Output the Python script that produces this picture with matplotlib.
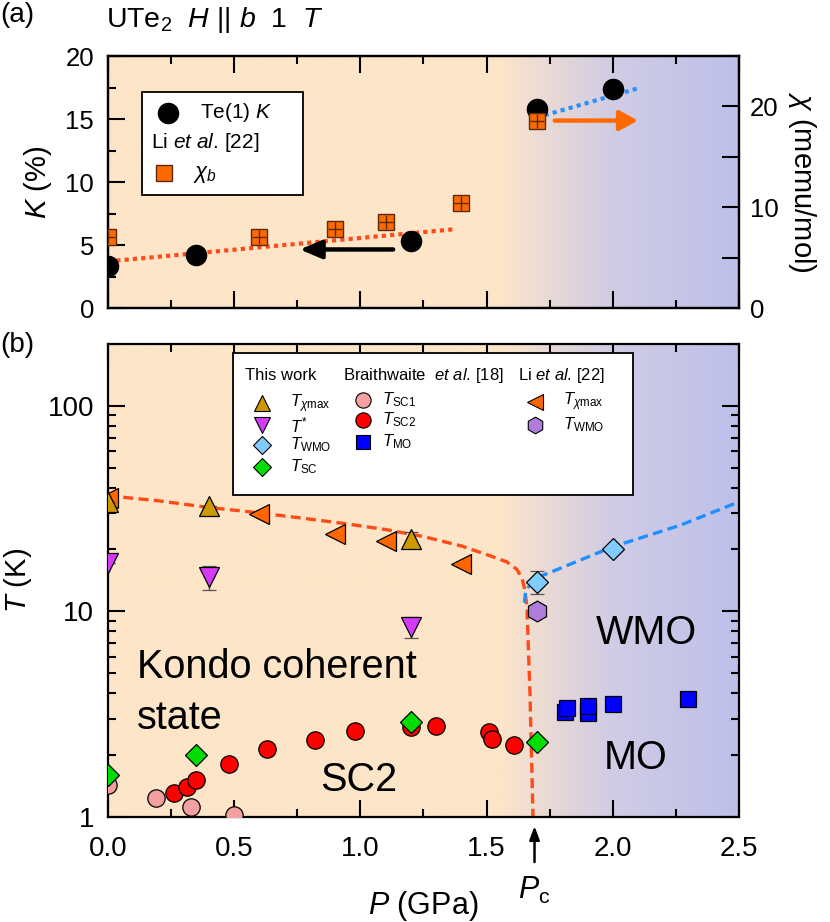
import numpy as np
import matplotlib
matplotlib.use("Agg")
import matplotlib.pyplot as plt
from matplotlib.patches import Rectangle
from matplotlib.ticker import MultipleLocator, LogLocator, NullFormatter

plt.rcParams['font.family'] = ['Liberation Sans', 'DejaVu Sans']
plt.rcParams['mathtext.fontset'] = 'custom'
plt.rcParams['mathtext.rm'] = 'Liberation Sans'
plt.rcParams['mathtext.it'] = 'Liberation Sans:italic'
plt.rcParams['mathtext.bf'] = 'Liberation Sans:bold'

# ---- panel (a): Knight shift and susceptibility ----
k_p = [0.0, 0.35, 1.2, 1.7, 2.0]
k_val = [3.3, 4.2, 5.3, 15.8, 17.4]
chi_p = [0.0, 0.6, 0.9, 1.1, 1.4, 1.7]
chi_val = [7.0, 7.0, 7.8, 8.5, 10.4, 18.6]
fit_low_p = [0.0, 1.37]
fit_low_k = [3.7, 6.25]
fit_high_p = [1.73, 2.11]
fit_high_k = [15.3, 17.5]

# ---- panel (b): phase diagram ----
txmax_p = [0.0, 0.4, 1.2]
txmax_t = [34.0, 32.5, 22.4]
txmax_err = [0.0, 0.0, 2.0]
tstar_p = [0.0, 0.4, 1.2]
tstar_t = [17.1, 14.7, 8.4]
tstar_err = [0.0, 2.0, 1.0]
twmo_p = [1.7, 2.0]
twmo_t = [13.9, 20.0]
twmo_err = [1.8, 0.0]
tsc_p = [0.0, 0.35, 1.2, 1.7]
tsc_t = [1.6, 2.0, 2.9, 2.3]

tsc1_p = [0.0, 0.19, 0.33, 0.50]
tsc1_t = [1.43, 1.23, 1.12, 1.02]
tsc2_p = [0.26, 0.315, 0.35, 0.48, 0.63, 0.82, 0.98, 1.2, 1.3, 1.51, 1.52, 1.61]
tsc2_t = [1.30, 1.39, 1.51, 1.80, 2.13, 2.36, 2.61, 2.72, 2.76, 2.57, 2.38, 2.23]
tmo_p = [1.81, 1.82, 1.90, 1.90, 2.0, 2.3]
tmo_t = [3.24, 3.37, 3.19, 3.46, 3.53, 3.74]

li_txmax_p = [0.0, 0.6, 0.9, 1.1, 1.4]
li_txmax_t = [35.5, 29.9, 23.9, 22.0, 17.0]
li_twmo_p = [1.7]
li_twmo_t = [10.0]

kondo_p = [0.0, 0.2, 0.4, 0.56, 0.75, 0.93, 1.1, 1.25, 1.4, 1.51, 1.58,
           1.62, 1.64, 1.65, 1.66, 1.665, 1.672, 1.678, 1.684]
kondo_t = [36.5, 34.5, 32.0, 30.5, 28.6, 26.8, 25.0, 23.1, 20.8, 18.7, 17.4,
           16.0, 14.5, 13.0, 10.5, 7.0, 4.0, 2.0, 1.0]
wmo_p = [1.650, 1.655, 1.675, 1.70, 1.76, 2.0, 2.27, 2.5]
wmo_t = [11.0, 12.4, 13.7, 14.6, 15.6, 20.6, 26.3, 34.1]

p_c = 1.69
x_ticks = [0.0, 0.5, 1.0, 1.5, 2.0, 2.5]

# background colour stops (pressure -> rgb)
bg_p = [0.0, 1.55, 1.75, 2.0, 2.5]
bg_rgb = np.array([[253, 229, 200], [253, 229, 200], [232, 217, 214],
                   [208, 204, 229], [190, 192, 234]]) / 255.0


def add_background(fig, ax):
    pp = np.linspace(0, 2.5, 600)
    img = np.stack([np.interp(pp, bg_p, bg_rgb[:, i]) for i in range(3)], axis=-1)
    bg = fig.add_axes(ax.get_position(), zorder=-1)
    bg.imshow(img[np.newaxis, :, :], aspect='auto', extent=[0, 1, 0, 1])
    bg.axis('off')
    ax.patch.set_visible(False)


def style_ticks(ax, size):
    ax.tick_params(which='both', direction='in', top=True, width=1.5, labelsize=size)
    ax.tick_params(which='major', length=12)
    ax.tick_params(which='minor', length=6)
    for s in ax.spines.values():
        s.set_linewidth(1.6)


fig = plt.figure(figsize=(8.3, 9.22), dpi=100)
ax1 = fig.add_axes([0.1301, 0.6659, 0.7602, 0.2733])
ax2 = fig.add_axes([0.1301, 0.1142, 0.7602, 0.5127])
add_background(fig, ax1)
add_background(fig, ax2)

# ---------- panel (a) ----------
ax1.set_xlim(0, 2.5)
ax1.set_ylim(0, 20)
ax1.xaxis.set_major_locator(MultipleLocator(0.5))
ax1.xaxis.set_minor_locator(MultipleLocator(0.25))
ax1.yaxis.set_major_locator(MultipleLocator(5))
ax1.yaxis.set_minor_locator(MultipleLocator(2.5))
ax1.set_xticklabels([])
style_ticks(ax1, 18.5)
ax1.tick_params(axis='y', pad=10)
ax1.tick_params(axis='x', labelbottom=False)
ax1.set_ylabel('$K$ (%)', fontsize=21, labelpad=8)

ax1r = ax1.twinx()
ax1r.set_ylim(0, 25)
ax1r.yaxis.set_major_locator(MultipleLocator(10))
ax1r.yaxis.set_minor_locator(MultipleLocator(5))
ax1r.tick_params(which='both', direction='in', width=1.5, labelsize=18.5, pad=8)
ax1r.tick_params(which='major', length=12)
ax1r.tick_params(which='minor', length=12)
ax1r.set_ylabel(r'$\chi$ (memu/mol)', fontsize=21, rotation=270, labelpad=28)
ax1r.patch.set_visible(False)
for s in ax1r.spines.values():
    s.set_linewidth(1.6)

ax1.plot(fit_low_p, fit_low_k, ls=(0, (1, 1)), color='#FF4A1A', lw=3, zorder=2)
ax1.plot(fit_high_p, fit_high_k, ls=(0, (1, 1)), color='#2B8FFF', lw=3, zorder=2)
ax1.plot(k_p, k_val, 'o', ms=14.5, color='black', zorder=3)
ax1r.plot(chi_p, chi_val, 's', ms=12, mfc='#FF6A00', mec='#5A2A10', mew=1.0, zorder=4)
ax1r.plot(chi_p, chi_val, '+', ms=10, mec='#5A2A10', mew=1.0, zorder=5)

ax1.annotate('', xy=(0.76, 4.65), xytext=(1.13, 4.65),
             arrowprops=dict(arrowstyle='-|>,head_length=1.3,head_width=0.55',
                             color='black', lw=3.2, shrinkA=0, shrinkB=0), zorder=6)
ax1r.annotate('', xy=(2.10, 18.6), xytext=(1.77, 18.6),
              arrowprops=dict(arrowstyle='-|>,head_length=1.1,head_width=0.6',
                              color='#FF6A00', lw=3.2, shrinkA=0, shrinkB=0), zorder=6)

# legend (a)
ax1.add_patch(Rectangle((0.054, 0.448), 0.255, 0.409, transform=ax1.transAxes,
                        facecolor='white', edgecolor='black', lw=1.3, zorder=7))
ax1.plot([0.095], [0.775], 'o', ms=14.5, color='black', transform=ax1.transAxes,
         clip_on=False, zorder=8)
ax1.text(0.146, 0.775, 'Te(1) $K$', fontsize=15, va='center', transform=ax1.transAxes, zorder=8)
ax1.text(0.068, 0.655, 'Li $et$ $al$. [22]', fontsize=15, va='center',
         transform=ax1.transAxes, zorder=8)
ax1.plot([0.089], [0.536], 's', ms=12, mfc='#FF6A00', mec='#5A2A10', mew=1.0,
         transform=ax1.transAxes, clip_on=False, zorder=8)
ax1.text(0.135, 0.530, r'$\chi_b$', fontsize=16, va='center', transform=ax1.transAxes, zorder=8)

fig.text(0.0, 0.984, '(a)', fontsize=20, va='center')
fig.text(0.1277, 0.978, r'UTe$_2$  $H$ || $b$  1  $T$', fontsize=20.5, va='center')

# ---------- panel (b) ----------
ax2.set_yscale('log')
ax2.set_xlim(0, 2.5)
ax2.set_ylim(1, 200)
ax2.set_xticks(x_ticks)
ax2.set_xticklabels([f'{v:.1f}' for v in x_ticks])
ax2.xaxis.set_minor_locator(MultipleLocator(0.25))
ax2.set_yticks([1, 10, 100])
ax2.set_yticklabels(['1', '10', '100'])
ax2.yaxis.set_minor_locator(LogLocator(base=10, subs=np.arange(2, 10)))
ax2.yaxis.set_minor_formatter(NullFormatter())
style_ticks(ax2, 20)
ax2.tick_params(which='both', right=True)
ax2.tick_params(axis='y', pad=10)
ax2.tick_params(axis='x', pad=14)
ax2.set_ylabel('$T$ (K)', fontsize=21, labelpad=10)
ax2.set_xlabel('$P$ (GPa)', fontsize=22, labelpad=19)

ax2.plot(kondo_p, kondo_t, ls=(0, (3, 1.6)), color='#FF4A1A', lw=2.4, zorder=2)
ax2.plot(wmo_p, wmo_t, ls=(0, (3, 1.6)), color='#1E8FFF', lw=2.4, zorder=2)

ekw = dict(ecolor='#555555', elinewidth=1.0, capsize=5, capthick=1.0, ls='none')
ax2.plot(tsc1_p, tsc1_t, 'o', ms=12.5, mfc='#F4A0A0', mec='black', mew=0.9, zorder=3)
ax2.plot(tsc2_p, tsc2_t, 'o', ms=12.5, mfc='#FF0000', mec='black', mew=0.9, zorder=3)
ax2.plot(tmo_p, tmo_t, 's', ms=11.5, mfc='#0000FF', mec='black', mew=0.9, zorder=3)
ax2.plot(li_txmax_p, li_txmax_t, '<', ms=15, mfc='#FF6600', mec='black', mew=0.9, zorder=3)
ax2.plot(li_twmo_p, li_twmo_t, 'h', ms=15, mfc='#B07CDC', mec='black', mew=0.9, zorder=3)
ax2.errorbar(txmax_p, txmax_t, yerr=txmax_err, marker='^', ms=15, mfc='#CC9900',
             mec='black', mew=0.9, zorder=4, **ekw)
ax2.errorbar(tstar_p, tstar_t, yerr=tstar_err, marker='v', ms=15, mfc='#D63AF9',
             mec='black', mew=0.9, zorder=4, **ekw)
ax2.errorbar(twmo_p, twmo_t, yerr=twmo_err, marker='D', ms=11.5, mfc='#80CCFF',
             mec='black', mew=0.9, zorder=4, **ekw)
ax2.plot(tsc_p, tsc_t, 'D', ms=11.5, mfc='#00DD00', mec='black', mew=0.9, zorder=5)

tr = ax2.transAxes
ax2.text(0.046, 0.317, 'Kondo coherent', fontsize=28.5, va='center', transform=tr)
ax2.text(0.046, 0.209, 'state', fontsize=28.5, va='center', transform=tr)
ax2.text(0.3975, 0.078, 'SC2', fontsize=28.5, va='center', ha='center', transform=tr)
ax2.text(0.853, 0.389, 'WMO', fontsize=28.5, va='center', ha='center', transform=tr)
ax2.text(0.837, 0.124, 'MO', fontsize=28.5, va='center', ha='center', transform=tr)

# P_c arrow
ax2.annotate('', xy=(p_c, -0.02), xycoords=('data', 'axes fraction'),
             xytext=(p_c, -0.096), textcoords=('data', 'axes fraction'),
             arrowprops=dict(arrowstyle='-|>,head_length=0.8,head_width=0.3',
                             color='black', lw=1.8, shrinkA=0, shrinkB=0))
ax2.text(p_c, -0.155, r'$P_\mathrm{c}$', fontsize=22, ha='center', va='center',
         transform=ax2.get_xaxis_transform())

# legend (b)
ax2.add_patch(Rectangle((0.198, 0.681), 0.634, 0.300, transform=tr,
                        facecolor='white', edgecolor='black', lw=1.3, zorder=7))
hs = 12
ax2.text(0.217, 0.934, 'This work', fontsize=12, va='center', transform=tr, zorder=8)
ax2.text(0.372, 0.934, 'Braithwaite  $et$ $al$. [18]', fontsize=12, va='center',
         transform=tr, zorder=8)
ax2.text(0.650, 0.934, 'Li $et$ $al$. [22]', fontsize=12, va='center', transform=tr, zorder=8)

leg_rows = [
    (0.2436, 0.2884, 0.8746, '^', 12, '#CC9900', r'$T_{\chi\mathrm{max}}$'),
    (0.2436, 0.2884, 0.8286, 'v', 12, '#D63AF9', r'$T^{*}$'),
    (0.2436, 0.2884, 0.7863, 'D', 9.5, '#80CCFF', r'$T_\mathrm{WMO}$'),
    (0.2436, 0.2884, 0.7404, 'D', 9.5, '#00DD00', r'$T_\mathrm{SC}$'),
    (0.4036, 0.4338, 0.8815, 'o', 11, '#F4A0A0', r'$T_\mathrm{SC1}$'),
    (0.4036, 0.4338, 0.8392, 'o', 11, '#FF0000', r'$T_\mathrm{SC2}$'),
    (0.4036, 0.4338, 0.7933, 's', 9.5, '#0000FF', r'$T_\mathrm{MO}$'),
    (0.6767, 0.7211, 0.8780, '<', 12, '#FF6600', r'$T_{\chi\mathrm{max}}$'),
    (0.6767, 0.7211, 0.8286, 'h', 12, '#B07CDC', r'$T_\mathrm{WMO}$'),
]
for mx, lx, ly, mk, ms, col, lab in leg_rows:
    ax2.plot([mx], [ly], mk, ms=ms, mfc=col, mec='black', mew=0.8, transform=tr,
             clip_on=False, zorder=8)
    ax2.text(lx, ly, lab, fontsize=hs, va='center', transform=tr, zorder=8)

fig.text(0.0, 0.626, '(b)', fontsize=20, va='center')

fig.savefig('out.png', dpi=100)
